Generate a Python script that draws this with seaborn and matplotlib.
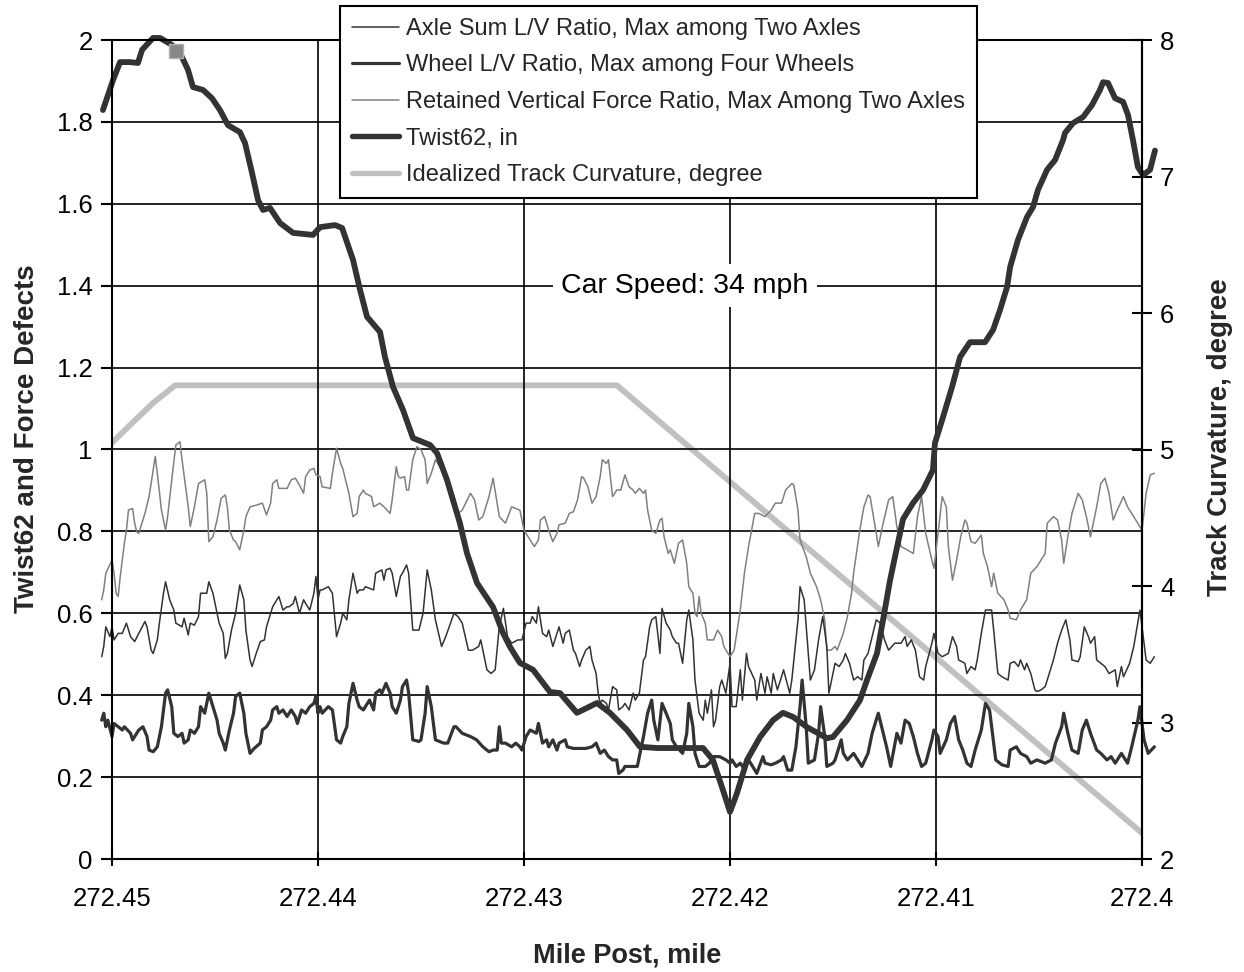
import matplotlib
matplotlib.use("Agg")
import matplotlib.pyplot as plt
import seaborn as sns
import pandas as pd
from matplotlib.lines import Line2D

# ---------------- data ----------------
twist_mp = [272.45044, 272.44995, 272.44961, 272.44913, 272.44874, 272.44854, 272.44801, 272.44767, 272.44709, 272.4466,
            272.44631, 272.44607, 272.44558, 272.44515, 272.44476, 272.44437, 272.44379, 272.44354, 272.4432, 272.44291,
            272.44267, 272.44233, 272.44184, 272.44121, 272.44024, 272.4399, 272.43917, 272.43883, 272.4383, 272.43796,
            272.43762, 272.43699, 272.43675, 272.43636, 272.43587, 272.43539, 272.43456, 272.43422, 272.43374, 272.43311,
            272.43277, 272.43228, 272.4315, 272.43102, 272.43068, 272.4302, 272.42956, 272.42874, 272.42825, 272.42743,
            272.42694, 272.42646, 272.42583, 272.425, 272.42437, 272.42354, 272.42209, 272.42131, 272.42083, 272.42034,
            272.42, 272.41966, 272.41917, 272.41854, 272.41791, 272.41743, 272.41694, 272.41626, 272.41529, 272.415,
            272.41432, 272.41369, 272.41335, 272.41286, 272.41257, 272.41223, 272.41189, 272.4116, 272.41112, 272.41063,
            272.41015, 272.41005, 272.40966, 272.40922, 272.40883, 272.40835, 272.40762, 272.40723, 272.40689, 272.40655,
            272.4064, 272.40602, 272.40558, 272.40529, 272.40505, 272.40461, 272.40422, 272.40383, 272.40374, 272.40335,
            272.40286, 272.40243, 272.40204, 272.40189, 272.40165, 272.40131, 272.40092, 272.40068, 272.40044, 272.4002,
            272.39995, 272.39961, 272.39937]
twist_val = [1.829, 1.902, 1.946, 1.946, 1.944, 1.976, 2.005, 2.005, 1.988, 1.958,
             1.927, 1.885, 1.878, 1.858, 1.829, 1.792, 1.775, 1.748, 1.675, 1.609,
             1.585, 1.590, 1.553, 1.529, 1.524, 1.543, 1.548, 1.541, 1.463, 1.390,
             1.324, 1.287, 1.226, 1.153, 1.096, 1.028, 1.011, 0.991, 0.926, 0.820,
             0.747, 0.674, 0.615, 0.552, 0.518, 0.479, 0.462, 0.408, 0.405, 0.357,
             0.369, 0.381, 0.357, 0.315, 0.274, 0.271, 0.271, 0.271, 0.242, 0.168,
             0.115, 0.161, 0.242, 0.298, 0.339, 0.357, 0.347, 0.322, 0.295, 0.298,
             0.339, 0.388, 0.437, 0.503, 0.584, 0.681, 0.762, 0.830, 0.869, 0.901,
             0.950, 1.016, 1.079, 1.153, 1.226, 1.262, 1.262, 1.292, 1.341, 1.397,
             1.446, 1.512, 1.568, 1.592, 1.634, 1.683, 1.707, 1.756, 1.773, 1.797,
             1.812, 1.841, 1.878, 1.897, 1.895, 1.858, 1.849, 1.817, 1.756, 1.690,
             1.670, 1.683, 1.730]

curv_mp = [272.45, 272.44898, 272.44801, 272.44694, 272.42549, 272.40]
curv_deg = [5.05, 5.20, 5.34, 5.47, 5.47, 2.19]

retained_mp = [272.4505, 272.4504, 272.4503, 272.4500, 272.4499, 272.4498, 272.4497, 272.4496, 272.4494, 272.4493,
               272.4492, 272.4490, 272.4489, 272.4488, 272.4487, 272.4486, 272.4484, 272.4482, 272.4479, 272.4478,
               272.4476, 272.4474, 272.4473, 272.4471, 272.4469, 272.4467, 272.4466, 272.4463, 272.4462, 272.4460,
               272.4458, 272.4455, 272.4454, 272.4453, 272.4451, 272.4449, 272.4447, 272.4445, 272.4444, 272.4443,
               272.4441, 272.4440, 272.4438, 272.4436, 272.4435, 272.4433, 272.4430, 272.4427, 272.4425, 272.4423,
               272.4422, 272.4420, 272.4419, 272.4415, 272.4413, 272.4411, 272.4409, 272.4407, 272.4406, 272.4404,
               272.4402, 272.4401, 272.4399, 272.4398, 272.4394, 272.4393, 272.4391, 272.4389, 272.4388, 272.4385,
               272.4383, 272.4381, 272.4380, 272.4378, 272.4377, 272.4374, 272.4373, 272.4370, 272.4368, 272.4365,
               272.4364, 272.4362, 272.4361, 272.4360, 272.4358, 272.4357, 272.4356, 272.4354, 272.4352, 272.4350,
               272.4348, 272.4347, 272.4345, 272.4343, 272.4338, 272.4334, 272.4332, 272.4330, 272.4326, 272.4324,
               272.4322, 272.4320, 272.4317, 272.4315,
               272.4312, 272.4309, 272.4306, 272.4302, 272.4300, 272.4297, 272.4295, 272.4293, 272.4292, 272.4290,
               272.4288, 272.4286, 272.4284, 272.4283, 272.4280, 272.4278, 272.4276, 272.4274, 272.4272, 272.4271,
               272.4269, 272.4267, 272.4265, 272.4263, 272.4262, 272.4260, 272.4259, 272.4257, 272.4255, 272.4253,
               272.4251, 272.4249, 272.4247, 272.4246, 272.4244, 272.4242, 272.4241, 272.4240, 272.4238, 272.4236,
               272.4234, 272.4233, 272.4232, 272.4230, 272.4229, 272.4227, 272.4225, 272.4223, 272.4221, 272.4220,
               272.4218, 272.4217, 272.4216, 272.4215, 272.4214, 272.4212, 272.4211, 272.4208, 272.4206, 272.4204,
               272.4203, 272.4200, 272.4199, 272.4198, 272.4195, 272.4193, 272.4191, 272.4188, 272.4186, 272.4183,
               272.4180, 272.4178, 272.4175, 272.4173, 272.4170, 272.4169, 272.4167, 272.4166, 272.4163, 272.4161,
               272.4158, 272.4156, 272.4154, 272.4153, 272.4151, 272.4149, 272.4148, 272.4145, 272.4143, 272.4141,
               272.4140, 272.4137, 272.4135, 272.4133, 272.4132, 272.4129, 272.4128, 272.4126, 272.4123, 272.4121,
               272.4119,
               272.4117, 272.4114, 272.4111, 272.4109, 272.4107, 272.4105, 272.4102, 272.4101, 272.4099, 272.4097,
               272.4095, 272.4094, 272.4092, 272.4090, 272.4088, 272.4086, 272.4085, 272.4083, 272.4081, 272.4078,
               272.4077, 272.4075, 272.4073, 272.4072, 272.4070, 272.4067, 272.4065, 272.4064, 272.4061, 272.4059,
               272.4056, 272.4054, 272.4051, 272.4047, 272.4046, 272.4043, 272.4041, 272.4039, 272.4038, 272.4036,
               272.4034, 272.4031, 272.4029, 272.4027, 272.4025, 272.4022, 272.4020, 272.4018, 272.4016, 272.4014,
               272.4012, 272.4009, 272.4007, 272.4004, 272.4000, 272.3998, 272.3996, 272.3994]
retained_val = [0.633, 0.657, 0.698, 0.730, 0.698, 0.649, 0.641, 0.690, 0.771, 0.803,
                0.852, 0.856, 0.820, 0.799, 0.795, 0.812, 0.844, 0.885, 0.983, 0.942,
                0.852, 0.803, 0.836, 0.926, 1.011, 1.019, 0.975, 0.860, 0.812, 0.860,
                0.917, 0.926, 0.893, 0.775, 0.787, 0.828, 0.881, 0.889, 0.860, 0.803,
                0.779, 0.775, 0.755, 0.803, 0.836, 0.860, 0.864, 0.869, 0.840, 0.869,
                0.917, 0.926, 0.905, 0.905, 0.926, 0.930, 0.913, 0.893, 0.934, 0.950,
                0.954, 0.938, 0.934, 0.909, 0.905, 0.942, 1.003, 0.966, 0.954, 0.893,
                0.836, 0.844, 0.885, 0.901, 0.893, 0.885, 0.860, 0.869, 0.860, 0.844,
                0.877, 0.958, 0.934, 0.930, 0.934, 0.901, 0.901, 0.975, 1.007, 0.999,
                0.975, 0.917, 0.942, 0.975, 0.934, 0.885, 0.844, 0.852, 0.893, 0.877,
                0.828, 0.836, 0.885, 0.930,
                0.836, 0.820, 0.860, 0.852, 0.803, 0.779, 0.763, 0.779, 0.828, 0.836,
                0.803, 0.775, 0.795, 0.816, 0.820, 0.844, 0.848, 0.877, 0.934, 0.930,
                0.909, 0.869, 0.885, 0.934, 0.975, 0.966, 0.975, 0.885, 0.901, 0.901,
                0.938, 0.909, 0.901, 0.893, 0.905, 0.893, 0.901, 0.852, 0.803, 0.795,
                0.828, 0.832, 0.787, 0.746, 0.755, 0.722, 0.771, 0.779, 0.722, 0.665,
                0.649, 0.600, 0.592, 0.641, 0.600, 0.576, 0.535, 0.535, 0.559, 0.543,
                0.519, 0.494, 0.502, 0.510, 0.608, 0.698, 0.763, 0.844, 0.844, 0.836,
                0.852, 0.869, 0.869, 0.901, 0.917, 0.913, 0.852, 0.779, 0.738, 0.698,
                0.665, 0.633, 0.584, 0.510, 0.510, 0.519, 0.510, 0.551, 0.592, 0.649,
                0.698, 0.803, 0.860, 0.889, 0.885, 0.795, 0.763, 0.812, 0.877, 0.885,
                0.812,
                0.763, 0.755, 0.746, 0.836, 0.885, 0.795, 0.730, 0.710, 0.795, 0.885,
                0.860, 0.763, 0.681, 0.730, 0.787, 0.828, 0.820, 0.775, 0.771, 0.791,
                0.746, 0.714, 0.665, 0.698, 0.649, 0.633, 0.608, 0.588, 0.584, 0.608,
                0.633, 0.698, 0.714, 0.746, 0.820, 0.836, 0.828, 0.779, 0.722, 0.787,
                0.844, 0.893, 0.877, 0.836, 0.787, 0.860, 0.917, 0.930, 0.893, 0.828,
                0.852, 0.885, 0.860, 0.836, 0.803, 0.893, 0.938, 0.942]

axle_mp = [272.4505, 272.4504, 272.4503, 272.4501, 272.4500, 272.4499, 272.4497, 272.4495, 272.4493, 272.4491,
           272.4489, 272.4487, 272.4484, 272.4483, 272.4481, 272.4480, 272.4478, 272.4477, 272.4475, 272.4474,
           272.4472, 272.4470, 272.4469, 272.4466, 272.4465, 272.4463, 272.4462, 272.4460, 272.4458, 272.4457,
           272.4454, 272.4453, 272.4451, 272.4449, 272.4448, 272.4446, 272.4445, 272.4444, 272.4442, 272.4440,
           272.4438, 272.4436, 272.4435, 272.4433, 272.4432, 272.4430, 272.4428, 272.4426, 272.4425, 272.4423,
           272.4422, 272.4420, 272.4419, 272.4417, 272.4415, 272.4414, 272.4412, 272.4411, 272.4409, 272.4407,
           272.4406, 272.4404, 272.4402, 272.4401, 272.4400, 272.4399, 272.4398, 272.4395, 272.4393, 272.4391,
           272.4389, 272.4388, 272.4386, 272.4385, 272.4383, 272.4381, 272.4380, 272.4378, 272.4377, 272.4373,
           272.4372, 272.4369, 272.4368, 272.4367, 272.4365, 272.4364, 272.4362, 272.4360, 272.4359, 272.4357,
           272.4356, 272.4354, 272.4351, 272.4349, 272.4347, 272.4345, 272.4343, 272.4340, 272.4338, 272.4334,
           272.4332, 272.4330, 272.4327, 272.4325, 272.4322, 272.4321, 272.4318, 272.4316, 272.4314,
           272.4312, 272.4310, 272.4308, 272.4306, 272.4303, 272.4301, 272.4299, 272.4297, 272.4296, 272.4294,
           272.4293, 272.4291, 272.4289, 272.4288, 272.4286, 272.4284, 272.4283, 272.4281, 272.4280, 272.4278,
           272.4276, 272.4275, 272.4273, 272.4272, 272.4270, 272.4268, 272.4267, 272.4265, 272.4264, 272.4263,
           272.4262, 272.4260, 272.4259, 272.4257, 272.4255, 272.4254, 272.4252, 272.4251, 272.4249, 272.4247,
           272.4246, 272.4244, 272.4242, 272.4241, 272.4239, 272.4238, 272.4236, 272.4234, 272.4233, 272.4231,
           272.4229, 272.4228, 272.4226, 272.4225, 272.4223, 272.4221, 272.4220, 272.4218, 272.4217, 272.4215,
           272.4213, 272.4212, 272.4211, 272.4209, 272.4208, 272.4207, 272.4205, 272.4204, 272.4202, 272.4200,
           272.4199, 272.4197, 272.4195, 272.4194, 272.4192, 272.4191, 272.4188, 272.4187, 272.4185, 272.4183,
           272.4182, 272.4180, 272.4179, 272.4177, 272.4175, 272.4174, 272.4171, 272.4170, 272.4167, 272.4166,
           272.4164, 272.4162, 272.4161, 272.4159, 272.4157, 272.4155, 272.4153, 272.4152, 272.4150, 272.4149,
           272.4147, 272.4145, 272.4144, 272.4142, 272.4140, 272.4138, 272.4136, 272.4135, 272.4133, 272.4131,
           272.4129, 272.4127, 272.4125, 272.4123, 272.4120,
           272.4117, 272.4115, 272.4114, 272.4112, 272.4110, 272.4108, 272.4106, 272.4105, 272.4102, 272.4101,
           272.4099, 272.4097, 272.4094, 272.4092, 272.4090, 272.4089, 272.4086, 272.4085, 272.4083, 272.4081,
           272.4080, 272.4078, 272.4076, 272.4073, 272.4072, 272.4070, 272.4068, 272.4065, 272.4064, 272.4062,
           272.4060, 272.4059, 272.4057, 272.4056, 272.4054, 272.4052, 272.4051, 272.4049, 272.4047, 272.4046,
           272.4043, 272.4041, 272.4039, 272.4037, 272.4035, 272.4034, 272.4031, 272.4030, 272.4028, 272.4026,
           272.4025, 272.4023, 272.4022, 272.4020, 272.4018, 272.4016, 272.4013, 272.4012, 272.4010, 272.4009,
           272.4006, 272.4004, 272.4001, 272.4000, 272.3998, 272.3996, 272.3994]
axle_val = [0.494, 0.519, 0.567, 0.543, 0.567, 0.535, 0.551, 0.551, 0.576, 0.543,
            0.531, 0.551, 0.580, 0.567, 0.510, 0.502, 0.535, 0.576, 0.649, 0.677,
            0.633, 0.608, 0.576, 0.567, 0.588, 0.547, 0.576, 0.571, 0.592, 0.649,
            0.649, 0.677, 0.649, 0.600, 0.576, 0.551, 0.490, 0.502, 0.559, 0.600,
            0.669, 0.633, 0.559, 0.486, 0.470, 0.502, 0.531, 0.535, 0.567, 0.600,
            0.616, 0.633, 0.641, 0.608, 0.616, 0.616, 0.624, 0.641, 0.600, 0.633,
            0.624, 0.608, 0.649, 0.690, 0.633, 0.657, 0.657, 0.665, 0.649, 0.543,
            0.576, 0.600, 0.584, 0.633, 0.698, 0.649, 0.657, 0.657, 0.665, 0.657,
            0.698, 0.706, 0.681, 0.706, 0.710, 0.698, 0.641, 0.690, 0.698, 0.718,
            0.698, 0.559, 0.559, 0.600, 0.706, 0.657, 0.584, 0.519, 0.543, 0.600,
            0.592, 0.576, 0.510, 0.510, 0.519, 0.535, 0.462, 0.453, 0.462,
            0.567, 0.612, 0.543, 0.527, 0.535, 0.535, 0.576, 0.576, 0.592, 0.576,
            0.616, 0.551, 0.543, 0.559, 0.519, 0.551, 0.567, 0.527, 0.551, 0.559,
            0.510, 0.502, 0.470, 0.486, 0.510, 0.519, 0.486, 0.453, 0.405, 0.380,
            0.388, 0.380, 0.364, 0.421, 0.413, 0.364, 0.372, 0.380, 0.364, 0.405,
            0.388, 0.405, 0.486, 0.494, 0.567, 0.584, 0.592, 0.502, 0.612, 0.576,
            0.559, 0.543, 0.527, 0.527, 0.478, 0.584, 0.608, 0.535, 0.437, 0.356,
            0.339, 0.388, 0.356, 0.413, 0.323, 0.339, 0.421, 0.437, 0.405, 0.478,
            0.372, 0.372, 0.462, 0.388, 0.502, 0.470, 0.437, 0.388, 0.453, 0.405,
            0.445, 0.405, 0.453, 0.413, 0.445, 0.462, 0.405, 0.437, 0.584, 0.665,
            0.633, 0.502, 0.437, 0.462, 0.535, 0.592, 0.519, 0.405, 0.453, 0.478,
            0.470, 0.486, 0.502, 0.478, 0.437, 0.445, 0.437, 0.486, 0.502, 0.543,
            0.584, 0.576, 0.535, 0.510, 0.527,
            0.527, 0.543, 0.519, 0.535, 0.510, 0.445, 0.437, 0.470, 0.527, 0.551,
            0.502, 0.494, 0.502, 0.543, 0.519, 0.486, 0.478, 0.453, 0.470, 0.462,
            0.486, 0.551, 0.608, 0.608, 0.559, 0.453, 0.445, 0.437, 0.478, 0.482,
            0.470, 0.486, 0.462, 0.478, 0.453, 0.413, 0.409, 0.413, 0.421, 0.437,
            0.486, 0.527, 0.559, 0.584, 0.535, 0.486, 0.482, 0.494, 0.567, 0.543,
            0.527, 0.543, 0.486, 0.478, 0.470, 0.453, 0.462, 0.421, 0.470, 0.445,
            0.478, 0.519, 0.608, 0.567, 0.486, 0.478, 0.494]

wheel_mp = [272.4505, 272.4504, 272.4503, 272.4502, 272.4500, 272.4499, 272.4497, 272.4495, 272.4494, 272.4491,
            272.4490, 272.4488, 272.4487, 272.4485, 272.4483, 272.4482, 272.4480, 272.4478, 272.4476, 272.4474,
            272.4473, 272.4471, 272.4470, 272.4468, 272.4466, 272.4465, 272.4463, 272.4462, 272.4460, 272.4458,
            272.4457, 272.4455, 272.4453, 272.4451, 272.4449, 272.4448, 272.4446, 272.4445, 272.4443, 272.4441,
            272.4440, 272.4438, 272.4436, 272.4435, 272.4433, 272.4431, 272.4428, 272.4427, 272.4425, 272.4423,
            272.4422, 272.4420, 272.4419, 272.4417, 272.4415, 272.4413, 272.4411, 272.4410, 272.4408, 272.4406,
            272.4404, 272.4402, 272.4401, 272.4400, 272.4399, 272.4398, 272.4395, 272.4393, 272.4391, 272.4389,
            272.4388, 272.4386, 272.4385, 272.4383, 272.4381, 272.4380, 272.4378, 272.4377, 272.4375, 272.4373,
            272.4372, 272.4370, 272.4369, 272.4367, 272.4365, 272.4364, 272.4362, 272.4360, 272.4359, 272.4357,
            272.4356, 272.4354, 272.4351, 272.4350, 272.4348, 272.4347, 272.4345, 272.4343, 272.4339, 272.4337,
            272.4334, 272.4333, 272.4330, 272.4326, 272.4323, 272.4320, 272.4317, 272.4315, 272.4313,
            272.4312, 272.4311, 272.4309, 272.4306, 272.4304, 272.4302, 272.4301, 272.4299, 272.4297, 272.4294,
            272.4293, 272.4291, 272.4289, 272.4288, 272.4286, 272.4284, 272.4283, 272.4280, 272.4279, 272.4276,
            272.4273, 272.4270, 272.4267, 272.4265, 272.4263, 272.4261, 272.4259, 272.4257, 272.4255, 272.4254,
            272.4252, 272.4251, 272.4247, 272.4245, 272.4243, 272.4242, 272.4240, 272.4238, 272.4237, 272.4235,
            272.4233, 272.4231, 272.4229, 272.4228, 272.4226, 272.4223, 272.4221, 272.4220, 272.4218, 272.4217,
            272.4215, 272.4212, 272.4210, 272.4208, 272.4205, 272.4202, 272.4200, 272.4199, 272.4197, 272.4195,
            272.4194, 272.4191, 272.4189, 272.4187, 272.4184, 272.4183, 272.4180, 272.4178, 272.4175, 272.4174,
            272.4172, 272.4170, 272.4168, 272.4166, 272.4165, 272.4163, 272.4162, 272.4159, 272.4157, 272.4156,
            272.4154, 272.4153, 272.4150, 272.4149, 272.4146, 272.4145, 272.4143, 272.4140, 272.4138, 272.4136,
            272.4133, 272.4131, 272.4128, 272.4126, 272.4124, 272.4122, 272.4119,
            272.4117, 272.4115, 272.4113, 272.4111, 272.4109, 272.4107, 272.4105, 272.4102, 272.4101, 272.4099,
            272.4098, 272.4095, 272.4093, 272.4091, 272.4089, 272.4087, 272.4085, 272.4083, 272.4081, 272.4078,
            272.4076, 272.4074, 272.4073, 272.4071, 272.4068, 272.4065, 272.4064, 272.4061, 272.4059, 272.4056,
            272.4054, 272.4051, 272.4047, 272.4044, 272.4042, 272.4039, 272.4038, 272.4036, 272.4034, 272.4031,
            272.4029, 272.4027, 272.4025, 272.4022, 272.4020, 272.4017, 272.4015, 272.4013, 272.4010, 272.4007,
            272.4005, 272.4002, 272.4001, 272.3999, 272.3997, 272.3994]
wheel_val = [0.339, 0.356, 0.323, 0.339, 0.299, 0.331, 0.323, 0.315, 0.323, 0.307,
             0.291, 0.307, 0.315, 0.323, 0.299, 0.266, 0.262, 0.274, 0.323, 0.405,
             0.413, 0.372, 0.307, 0.299, 0.307, 0.283, 0.291, 0.315, 0.307, 0.323,
             0.372, 0.356, 0.405, 0.372, 0.339, 0.307, 0.283, 0.266, 0.315, 0.356,
             0.397, 0.405, 0.356, 0.307, 0.258, 0.270, 0.283, 0.315, 0.323, 0.339,
             0.364, 0.372, 0.356, 0.364, 0.348, 0.364, 0.348, 0.331, 0.364, 0.356,
             0.372, 0.380, 0.397, 0.356, 0.372, 0.356, 0.372, 0.364, 0.291, 0.283,
             0.299, 0.323, 0.380, 0.429, 0.388, 0.372, 0.364, 0.372, 0.388, 0.364,
             0.405, 0.413, 0.405, 0.429, 0.405, 0.372, 0.356, 0.388, 0.421, 0.437,
             0.405, 0.291, 0.287, 0.291, 0.356, 0.421, 0.372, 0.291, 0.283, 0.283,
             0.323, 0.323, 0.307, 0.299, 0.291, 0.274, 0.262, 0.266, 0.266,
             0.323, 0.283, 0.283, 0.274, 0.283, 0.274, 0.266, 0.299, 0.315, 0.307,
             0.331, 0.283, 0.291, 0.274, 0.291, 0.266, 0.283, 0.291, 0.274, 0.270,
             0.270, 0.270, 0.274, 0.283, 0.258, 0.266, 0.250, 0.242, 0.242, 0.209,
             0.217, 0.226, 0.226, 0.226, 0.274, 0.299, 0.356, 0.388, 0.339, 0.291,
             0.380, 0.356, 0.331, 0.291, 0.274, 0.258, 0.307, 0.380, 0.323, 0.258,
             0.226, 0.226, 0.234, 0.250, 0.250, 0.242, 0.234, 0.242, 0.226, 0.234,
             0.226, 0.242, 0.226, 0.209, 0.250, 0.234, 0.230, 0.234, 0.242, 0.250,
             0.217, 0.217, 0.274, 0.372, 0.437, 0.323, 0.234, 0.242, 0.307, 0.372,
             0.299, 0.226, 0.234, 0.242, 0.291, 0.258, 0.242, 0.258, 0.242, 0.226,
             0.258, 0.307, 0.356, 0.315, 0.274, 0.226, 0.307,
             0.283, 0.339, 0.331, 0.299, 0.258, 0.226, 0.234, 0.291, 0.315, 0.299,
             0.258, 0.291, 0.331, 0.348, 0.291, 0.266, 0.234, 0.226, 0.266, 0.315,
             0.380, 0.364, 0.323, 0.242, 0.230, 0.226, 0.266, 0.274, 0.258, 0.250,
             0.234, 0.242, 0.234, 0.242, 0.283, 0.323, 0.356, 0.307, 0.266, 0.258,
             0.315, 0.339, 0.307, 0.266, 0.258, 0.242, 0.250, 0.234, 0.258, 0.234,
             0.274, 0.339, 0.372, 0.291, 0.258, 0.274]

marker_mp = [272.44687]
marker_val = [1.974]

x_ticks = [272.45, 272.44, 272.43, 272.42, 272.41, 272.40]
x_tick_labels = ["272.45", "272.44", "272.43", "272.42", "272.41", "272.4"]
y_ticks = [0, 0.2, 0.4, 0.6, 0.8, 1.0, 1.2, 1.4, 1.6, 1.8, 2.0]
y_tick_labels = ["0", "0.2", "0.4", "0.6", "0.8", "1", "1.2", "1.4", "1.6", "1.8", "2"]
y2_ticks = [2, 3, 4, 5, 6, 7, 8]

legend_labels = ["Axle Sum L/V Ratio, Max among Two Axles",
                 "Wheel L/V Ratio, Max among Four Wheels",
                 "Retained Vertical Force Ratio, Max Among Two Axles",
                 "Twist62, in",
                 "Idealized Track Curvature, degree"]
speed_text = "Car Speed: 34 mph"

# ---------------- style ----------------
sns.set_theme(style="white")
plt.rcParams["font.family"] = ["Liberation Sans", "DejaVu Sans"]

W, H = 1244, 972
fig = plt.figure(figsize=(W / 100, H / 100), dpi=100)
L, R, T, B = 112, 1142, 40, 859
ax = fig.add_axes([L / W, 1 - B / H, (R - L) / W, (B - T) / H])
ax2 = ax.twinx()
ax.set_zorder(ax2.get_zorder() + 1)
ax.patch.set_visible(False)
ax2.patch.set_facecolor("white")

dark = "#333333"
c_ret = "#808080"
c_curv = "#c0c0c0"

# curvature on right axis
sns.lineplot(x=curv_mp, y=curv_deg, ax=ax2, color=c_curv, linewidth=4.2,
             estimator=None, sort=False, legend=False)

series = [
    (retained_mp, retained_val, c_ret, 1.1),
    (axle_mp, axle_val, dark, 1.1),
    (wheel_mp, wheel_val, dark, 2.3),
    (twist_mp, twist_val, dark, 4.2),
]
for mp, val, col, lw in series:
    assert len(mp) == len(val), (len(mp), len(val))
    sns.lineplot(x=mp, y=val, ax=ax, color=col, linewidth=lw, estimator=None,
                 sort=False, legend=False, clip_on=False, solid_joinstyle="round")

ax.plot(marker_mp, marker_val, linestyle="none", marker="s", markersize=10,
        markerfacecolor="#888888", markeredgecolor="#b0b0b0", markeredgewidth=1, clip_on=False)

# axes
ax.set_xlim(272.45, 272.40)
ax.set_ylim(0, 2)
ax2.set_ylim(2, 8)
ax.set_xticks(x_ticks)
ax.set_xticklabels(x_tick_labels)
ax.set_yticks(y_ticks)
ax.set_yticklabels(y_tick_labels)
ax2.set_yticks(y2_ticks)
ax2.set_yticklabels([str(v) for v in y2_ticks])

for a in (ax, ax2):
    for s in a.spines.values():
        s.set_color("black")
        s.set_linewidth(1.5)
ax2.spines["left"].set_visible(False)
ax2.spines["top"].set_visible(False)
ax2.spines["bottom"].set_visible(False)

ax.grid(True, color="black", linewidth=1.2)
ax.tick_params(axis="y", direction="out", length=8, width=1.5, color="black",
               labelsize=18.5, pad=6, labelcolor="black", left=True)
ax.tick_params(axis="x", direction="inout", length=10, width=1.5, color="black",
               labelsize=18.5, pad=15, labelcolor="black", bottom=True)
ax2.tick_params(axis="y", direction="inout", length=14, width=1.5, color="black",
                labelsize=18.5, pad=6, labelcolor="black", right=True)
ax.set_xlabel("")
ax.set_ylabel("")
ax2.set_ylabel("")

# speed annotation
ax.text(272.4222, 1.40, speed_text, ha="center", va="center", fontsize=20.5,
        color="black", zorder=10,
        bbox=dict(facecolor="white", edgecolor="none", boxstyle="square,pad=0.3"))

# legend
handles = [
    Line2D([], [], color=dark, linewidth=1.1),
    Line2D([], [], color=dark, linewidth=2.3),
    Line2D([], [], color=c_ret, linewidth=1.1),
    Line2D([], [], color=dark, linewidth=3.9),
    Line2D([], [], color=c_curv, linewidth=3.8),
]
leg = ax.legend(handles, legend_labels, loc="upper left",
                bbox_to_anchor=(340 / W, 1 - 6 / H), bbox_transform=fig.transFigure,
                borderaxespad=0, frameon=True, fancybox=False, framealpha=1,
                edgecolor="black", fontsize=17, handlelength=2.0, handletextpad=0.3,
                labelspacing=0.62, borderpad=0.5)
leg.get_frame().set_linewidth(1.5)
leg.set_zorder(20)

# axis titles
fig.text(627 / W, 1 - 955 / H, "Mile Post, mile", ha="center", va="center",
         fontsize=19.5, fontweight="bold")
fig.text(27 / W, 1 - 439 / H, "Twist62 and Force Defects", ha="center", va="center",
         rotation=90, fontsize=20, fontweight="bold")
fig.text(1220 / W, 1 - 437 / H, "Track Curvature, degree", ha="center", va="center",
         rotation=90, fontsize=20, fontweight="bold")

fig.savefig("out.png", dpi=100, facecolor="white")
